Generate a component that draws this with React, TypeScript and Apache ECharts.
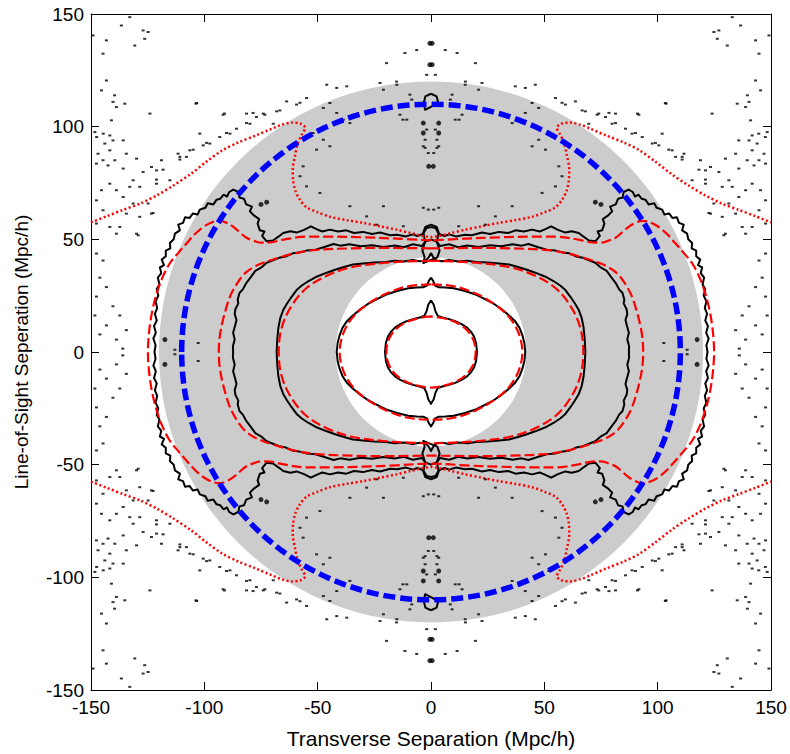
import React, { useEffect, useRef } from "react";
import * as echarts from "echarts";

type P = [number, number];

// ---------- axes ----------
const axisMin = -150;
const axisMax = 150;
const axisStep = 50;
const xAxisTitle = "Transverse Separation (Mpc/h)";
const yAxisTitle = "Line-of-Sight Seperation (Mpc/h)";

// ---------- shaded fitting range and model circle (Mpc/h) ----------
const fitRangeOuter = 120;
const fitRangeInner = 42;
const modelCircleRadius = 110;

// ---------- contours, upper-left quadrant (plot is mirror symmetric) ----------
// each list runs from the top (x = 0) to the left (y = 0)
const blackLevel1: P[] = [[0, 23], [-1.2, 21], [-2, 18], [-3, 16], [-5, 15.3], [-8, 14.6], [-10.7, 13.7], [-13.5, 12.4], [-15.9, 10.8], [-17.8, 8.8], [-19, 6.9], [-19.9, 4], [-20.3, 0]];
const redLevel1: P[] = [[0, 15.8], [-5, 15.1], [-10.5, 13.4], [-15.2, 10.4], [-18.2, 6.5], [-19.4, 3], [-19.7, 0]];

const blackLevel2: P[] = [[0, 33], [-1, 31.5], [-1.8, 29.5], [-3.5, 28.7], [-6.3, 28.6], [-10, 28.3], [-15, 27.1], [-20, 25.4], [-24, 23.4], [-28, 21.2], [-31.3, 18.9], [-34.5, 16.2], [-37.2, 13.5], [-39, 10.8], [-40.3, 7.5], [-41.2, 4], [-41.6, 0]];
const redLevel2: P[] = [[0, 30], [-10, 29.2], [-20, 25.8], [-29, 20.5], [-35, 14.8], [-38.8, 8], [-40.3, 0]];

const blackLevel3: P[] = [[0, 44], [-1, 42], [-2.5, 40.5], [-5, 40.3], [-8, 40.8], [-12, 40.2], [-16, 40.5], [-20, 39.9], [-25, 39.7], [-30, 39.3], [-34.4, 38.8], [-38, 37.8], [-42, 36.6], [-46, 35.2], [-50.5, 33.4], [-54, 31.5], [-57, 29.5], [-59.3, 27.5], [-61.5, 24.5], [-63.5, 21.5], [-65.2, 18.6], [-66.5, 15], [-67.3, 11], [-67.8, 6], [-68.1, 0]];
const redLevel3: P[] = [[0, 40.5], [-10, 40.2], [-20, 39.6], [-35, 37.6], [-46, 33.8], [-55, 28.3], [-61.5, 20.5], [-65.8, 11], [-67.2, 0]];

const blackLevel4: P[] = [[0, 50], [-2.5, 49], [-4, 47], [-8, 47.8], [-12, 46.5], [-16, 47.3], [-21, 46.6], [-26, 47.4], [-31, 46.9], [-36, 47.8], [-40, 47.2], [-43, 47.9], [-47, 46.6], [-51, 45.4], [-55, 45], [-58, 44.2], [-61, 43.8], [-64, 42.4], [-67, 41.8], [-70, 40.6], [-72.5, 39.6], [-75, 37.4], [-77.5, 36], [-79.5, 33.2], [-81.5, 30.6], [-83, 27.8], [-84.5, 26.2], [-85.3, 23.2], [-85, 21.6], [-86.3, 19], [-86.6, 16.8], [-85.8, 14.2], [-86.5, 11.4], [-87.3, 8.5], [-86.6, 5.6], [-87.4, 2.6], [-87.3, 0]];
const redLevel4: P[] = [[0, 46], [-10, 46.1], [-21, 46.2], [-35, 46], [-50.5, 45.3], [-60, 43.8], [-68, 41.6], [-74, 39.6], [-78, 37.8], [-82, 35], [-85.5, 30.5], [-88.5, 25], [-90.5, 19], [-92.3, 12], [-93.3, 6], [-93.6, 0]];

const blackLevel5: P[] = [[0, 55.5], [-2, 55], [-3.4, 52.5], [-6, 51.5], [-8, 52.2], [-11, 51.3], [-15, 52], [-18, 51.8], [-22.5, 53], [-26, 52.4], [-30, 53.3], [-34, 52.8], [-37.3, 54], [-41, 53.5], [-44.6, 54.3], [-48, 53.5], [-50.5, 54.5], [-53, 55.8], [-56, 54.2], [-59.3, 53], [-62, 53.6], [-65.2, 52.8], [-67, 51.4], [-69.7, 49.5], [-72.5, 49.1], [-74.5, 51.5], [-73.5, 53.5], [-75.5, 54], [-76.5, 57], [-75.8, 59], [-78, 60.5], [-79.9, 62.4], [-79, 64.5], [-81.5, 65.5], [-82.5, 68], [-84.5, 68.5], [-85, 71], [-87.2, 72.1], [-89, 71], [-90, 69], [-91.5, 69.8], [-93, 68], [-94.6, 67.6], [-96, 65.5], [-98.5, 66], [-99.5, 64], [-102, 63.2], [-103, 61], [-105, 61.5], [-106.5, 59.5], [-108.5, 59.8], [-109.4, 57.3], [-111.5, 56.5], [-110.8, 54], [-113, 52.5], [-113.5, 50], [-115.2, 48.4], [-115, 46], [-117, 45], [-117, 42.5], [-118.8, 41], [-117.8, 38.5], [-119.6, 37.5], [-119, 35], [-120.5, 33], [-119.8, 30], [-121, 28], [-120.3, 25], [-121.5, 22.5], [-120.8, 19.5], [-121.8, 17], [-121, 14], [-122.2, 11.5], [-121.4, 8.5], [-122.5, 6], [-121.5, 3], [-122, 0]];
const redLevel5: P[] = [[0, 49.5], [-15, 50.3], [-30, 50.9], [-45, 51.2], [-55, 51.2], [-65, 49.9], [-71, 48.6], [-75, 48.5], [-78, 49.3], [-81.4, 50.7], [-84, 52.8], [-86.5, 55], [-89.5, 57], [-93.2, 58.2], [-96.5, 57.6], [-100, 55.8], [-104, 52.5], [-108, 48], [-111.5, 44], [-115.2, 39.4], [-118.5, 33], [-121, 26], [-122.8, 19], [-124, 12], [-124.7, 5], [-124.9, 0]];

// dotted red level, upper-left, from the left frame to the centre line
const dottedLevel: P[] = [[-150, 57.5], [-143, 60.3], [-136, 63], [-128, 66], [-121, 69.5], [-113.5, 74], [-106, 79], [-99, 84.5], [-92, 89.5], [-85, 93], [-77, 96.2], [-70.5, 99], [-66, 100.8], [-61.5, 101.8], [-57.5, 101.3], [-55.5, 99.5], [-57, 96.5], [-58.8, 92.5], [-60, 87], [-61, 81], [-60.8, 76], [-59.8, 71.5], [-58, 67.8], [-55, 64.3], [-50, 62], [-44.6, 60], [-37, 58.5], [-29.9, 57.3], [-22, 55.7], [-15.2, 54.3], [-9, 52.8], [-5, 51.8], [-2, 51.3], [0, 51]];

// small black contour pieces on the line-of-sight axis (upper-left)
const axisPieceA: P[] = [[0, 56.5], [-2.5, 55.5], [-3.4, 53], [-2.6, 49], [-3.8, 45], [-2.8, 42], [-3.4, 39.5]];
const axisPieceB: P[] = [[0, 114.6], [-2.5, 113.4], [-3.2, 110.5], [-2.6, 107.5]];

// black blobs (upper-left)
const blobs: P[] = [[-0.5, 137], [-0.5, 127.5], [-3.4, 97.2], [-3.4, 101.6], [-75, 65.5], [-72.5, 66.5], [-117.4, 5.5], [-1, 82.4]];

// scattered black specks of the noisy contours (upper-left)
const specks: P[] = [
  [-136.6, 144.9], [-132.9, 148.6], [-127, 142.7], [-124.8, 142], [-126.3, 139], [-130.7, 136], [-143.2, 138.3], [-144.7, 132.4], [-149.1, 140.5],
  [-143.2, 120.5], [-145.4, 116.1], [-139.6, 113.9], [-138.8, 108.7], [-135.1, 110.2], [-140.3, 111], [-124, 105.8], [-103.7, 110.2], [-91.1, 105.8],
  [-141, 102.8], [-148.3, 97.6], [-147.5, 95.4], [-144.6, 96.9],
  [-141.7, 96.1], [-140.3, 93.9], [-143.9, 92.5], [-141.7, 89.5], [-146.9, 88], [-144.7, 85.1], [-139.5, 85.1], [-135.8, 93.9], [-134.4, 88],
  [-147.6, 83.6], [-142.5, 82.8], [-135.8, 81.4], [-129.9, 85.8], [-131.4, 76.2], [-127, 79.9], [-121.1, 80.6], [-118.9, 85.1], [-123.3, 82.1],
  [-115.2, 76.2], [-110.8, 86.6], [-107.9, 86.6], [-106.4, 89.5], [-100.5, 91.7], [-97.6, 92.5], [-93.2, 95.4], [-88.7, 96.9], [-85.8, 99.1],
  [-81.4, 105.8], [-77, 104.3], [-74, 105.8], [-69.6, 101.3], [-66.7, 107.2], [-79.9, 101.3], [-102, 96.9], [-111.6, 88],
  [-147.6, 57], [-141.7, 55.5], [-138.8, 52.5], [-137.3, 55.5], [-129.9, 52.5], [-128.5, 60], [-131.4, 65.9], [-135.8, 68.8], [-138.8, 71.8],
  [-141.7, 74.7], [-145.4, 71.8], [-147.6, 67.3], [-144.7, 62.9], [-134.4, 61.4], [-123.3, 61.4], [-124.8, 65.9], [-132.9, 73.3], [-128.5, 73.3],
  [-121.1, 74.7], [-129.2, 51.8], [-122.6, 61.7],
  [-147.6, 43.7], [-144.7, 40.6], [-146.1, 33], [-143.2, 28.8], [-147.6, 24.6], [-140.3, 20.3], [-137.3, 16.2], [-143.2, 11.8], [-146.1, 7.8],
  [-138.8, 5.5], [-134.4, 9.7], [-136, 1.5], [-148.3, 16.2],
  [-113, 1], [-102.7, 4],
  [-63.7, 111.2], [-57.8, 110.6], [-54.9, 112.7], [-47.5, 108.3], [-44.6, 110.5], [-41.6, 106.1], [-38.7, 103.1], [-35.8, 101.6], [-52, 97.2],
  [-47.5, 94.2], [-44.6, 91.3], [-50.5, 89.8], [-56.4, 82.4], [-57.8, 78], [-54.9, 73.5], [-49, 70.6], [-35.8, 64.7], [-28.4, 60.2], [-24, 56.5],
  [-21, 64.7], [-12.2, 55.8], [-3.4, 64], [-1.9, 98.7], [-3.4, 91.3], [-2.6, 94.2], [-1.2, 88.3], [-10.7, 103.1],
  [-46, 118.6], [-41.6, 117.2], [-37.2, 117.9], [-22.5, 119.4], [-15.1, 118.6], [-1.9, 123], [-6.3, 134], [-11.5, 132.7], [-19.6, 128.2],
  [-15.2, 120], [-21, 116.4], [-13.7, 105.3], [-12.4, 103.1], [-9.3, 114.2], [-8.5, 112], [-2.6, 90.6], [-1.2, 63.2],
  [-78.5, 106.1], [-73.3, 105.3], [-68.1, 106.8], [-59.3, 109.8], [-81.4, 101.6], [-90.2, 97.2], [-99, 92.8], [-104.9, 89.8], [-110.8, 85.4],
  [-118.2, 80.9], [-121.1, 76.5], [-103.4, 110.5], [-91.7, 105.3]
];

// ---------- helpers that apply the plot's mirror symmetry ----------
function mirrorClosed(q: P[]): P[] {
  const n = q.length;
  const out: P[] = [];
  for (let i = 0; i < n; i++) out.push([q[i][0], q[i][1]]);
  for (let i = n - 2; i >= 0; i--) out.push([q[i][0], -q[i][1]]);
  for (let i = 1; i < n; i++) out.push([-q[i][0], -q[i][1]]);
  for (let i = n - 2; i >= 0; i--) out.push([-q[i][0], q[i][1]]);
  return out;
}
function mirrorAcross(q: P[], sy: number): P[] {
  const n = q.length;
  const out: P[] = [];
  for (let i = 0; i < n; i++) out.push([q[i][0], sy * q[i][1]]);
  for (let i = n - 2; i >= 0; i--) out.push([-q[i][0], sy * q[i][1]]);
  return out;
}
function mirrorPieces(q: P[]): P[][] {
  return [mirrorAcross(q, 1), mirrorAcross(q, -1)];
}
function mirrorPoints(pts: P[]): P[] {
  const out: P[] = [];
  pts.forEach(([x, y]) => {
    out.push([x, y], [-x, y], [x, -y], [-x, -y]);
  });
  return out;
}

const BLACK = "#000000";
const RED = "#ff0000";
const BLUE = "#0000ff";
const GRAY = "#cccccc";
const FONT = "'Liberation Sans', Arial, Helvetica, sans-serif";

function line(data: P[], color: string, width: number, type: any, smooth: number | boolean, z: number) {
  return {
    type: "line",
    data,
    symbol: "none",
    showSymbol: false,
    smooth,
    silent: true,
    z,
    lineStyle: { color, width, type, cap: "butt", join: "round" },
  };
}

function buildOption() {
  const series: any[] = [];

  series.push({
    type: "custom",
    data: [[0, 0]],
    silent: true,
    z: 1,
    renderItem: (_p: any, api: any) => {
      const c = api.coord([0, 0]);
      const ox = api.coord([fitRangeOuter, 0])[0] - c[0];
      const oy = c[1] - api.coord([0, fitRangeOuter])[1];
      const ix = api.coord([fitRangeInner, 0])[0] - c[0];
      const iy = c[1] - api.coord([0, fitRangeInner])[1];
      return {
        type: "group",
        children: [
          { type: "ellipse", shape: { cx: c[0], cy: c[1], rx: ox, ry: oy }, style: { fill: GRAY } },
          { type: "ellipse", shape: { cx: c[0], cy: c[1], rx: ix, ry: iy }, style: { fill: "#ffffff" } },
        ],
      };
    },
  });

  const blacks = [blackLevel1, blackLevel2, blackLevel3, blackLevel4, blackLevel5];
  blacks.forEach((q) => series.push(line(mirrorClosed(q), BLACK, 2, "solid", false, 3)));
  [axisPieceA, axisPieceB].forEach((q) => {
    mirrorPieces(q).forEach((d) => series.push(line(d, BLACK, 2, "solid", false, 3)));
  });

  const reds = [redLevel1, redLevel2, redLevel3, redLevel4, redLevel5];
  reds.forEach((q) => series.push(line(mirrorClosed(q), RED, 2.2, [10, 4], 0.35, 4)));

  mirrorPieces(dottedLevel).forEach((d) => series.push(line(d, RED, 2.5, [2, 2.5], 0.3, 4)));

  series.push({
    type: "scatter",
    data: mirrorPoints(specks),
    symbol: "rect",
    symbolSize: [3, 2],
    itemStyle: { color: BLACK },
    silent: true,
    z: 5,
  });
  series.push({
    type: "scatter",
    data: mirrorPoints(blobs),
    symbol: "circle",
    symbolSize: 5,
    itemStyle: { color: BLACK },
    silent: true,
    z: 5,
  });

  series.push({
    type: "custom",
    data: [[0, 0]],
    silent: true,
    z: 6,
    renderItem: (_p: any, api: any) => {
      const c = api.coord([0, 0]);
      const rx = api.coord([modelCircleRadius, 0])[0] - c[0];
      const ry = c[1] - api.coord([0, modelCircleRadius])[1];
      return {
        type: "ellipse",
        shape: { cx: c[0], cy: c[1], rx, ry },
        style: { fill: "none", stroke: BLUE, lineWidth: 5.5, lineDash: [12, 5] },
      };
    },
  });

  const tickLabel = { color: BLACK, fontFamily: FONT, fontSize: 19 };
  const axisBase = {
    type: "value",
    min: axisMin,
    max: axisMax,
    interval: axisStep,
    axisLine: { show: true, onZero: false, lineStyle: { color: BLACK, width: 1 } },
    axisTick: { show: true, inside: true, length: 8, lineStyle: { color: BLACK, width: 1 } },
    splitLine: { show: false },
  };

  return {
    animation: false,
    backgroundColor: "#ffffff",
    grid: { left: 91, right: 19, top: 14, bottom: 63, containLabel: false },
    xAxis: [
      {
        ...axisBase,
        position: "bottom",
        axisLabel: { ...tickLabel, margin: 8 },
        name: xAxisTitle,
        nameLocation: "middle",
        nameGap: 38,
        nameTextStyle: { color: BLACK, fontFamily: FONT, fontSize: 21 },
      },
      { ...axisBase, position: "top", axisLabel: { show: false } },
    ],
    yAxis: [
      {
        ...axisBase,
        position: "left",
        axisLabel: { ...tickLabel, margin: 7 },
        name: yAxisTitle,
        nameLocation: "middle",
        nameGap: 60,
        nameRotate: 90,
        nameTextStyle: { color: BLACK, fontFamily: FONT, fontSize: 19 },
      },
      { ...axisBase, position: "right", axisLabel: { show: false } },
    ],
    series,
  };
}

export default function App() {
  const ref = useRef<HTMLDivElement>(null);
  useEffect(() => {
    if (!ref.current) return;
    const chart = echarts.init(ref.current, undefined, { renderer: "svg" });
    chart.setOption(buildOption() as any);
    return () => chart.dispose();
  }, []);
  return (
    <div
      ref={ref}
      style={{ position: "fixed", left: 0, top: 0, width: 790, height: 754, background: "#ffffff" }}
    />
  );
}
